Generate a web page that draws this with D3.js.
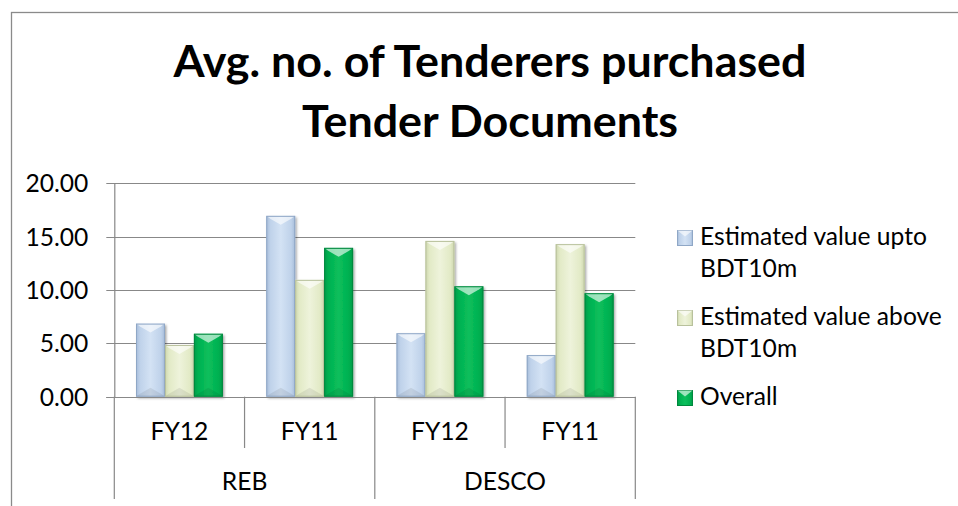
<!DOCTYPE html>
<html><head><meta charset="utf-8">
<script src="https://cdn.jsdelivr.net/npm/d3@7"></script>
<style>html,body{margin:0;padding:0;background:#fff;overflow:hidden;} svg{display:block;}</style>
</head><body>
<svg id="chart" width="958" height="506"></svg>
<script>
// ---- data ----
const titleLines = ["Avg. no. of Tenderers purchased", "Tender Documents"];
const categories = ["REB FY12", "REB FY11", "DESCO FY12", "DESCO FY11"];
const periodLabels = ["FY12", "FY11", "FY12", "FY11"];
const companyLabels = ["REB", "DESCO"];
const seriesNames = ["Estimated value upto BDT10m", "Estimated value above BDT10m", "Overall"];
const uptoValues = [6.85, 16.95, 5.95, 3.9];
const aboveValues = [4.85, 10.95, 14.6, 14.3];
const overallValues = [5.9, 13.95, 10.35, 9.7];
const yTickValues = [0, 5, 10, 15, 20];
const yTickLabels = ["0.00", "5.00", "10.00", "15.00", "20.00"];

// ---- styles ----
const seriesColors = ["#bfd2ea", "#e2eac6", "#00b050"];
const seriesEdge = ["#8fa7c6", "#b8c19c", "#00883d"];
const seriesDark = ["#a6bcd9", "#cdd6ae", "#00994a"];
const seriesLight = ["#d3e2f4", "#eef3db", "#0bbf5c"];
const gridColor = "#888888";
const fontFamily = "Lato, 'Open Sans', sans-serif";

const svg = d3.select("#chart");
const defs = svg.append("defs");

// measure font scaling so the substitute font matches Calibri widths
function measure(text, size, weight) {
  const t = svg.append("text").attr("font-family", fontFamily).attr("font-size", size)
    .attr("font-weight", weight || "normal").text(text);
  const w = t.node().getComputedTextLength();
  t.remove();
  return w;
}
const fs = 26 * 227 / measure("Estimated value upto", 26);
const tfs = 48 * 633 / measure(titleLines[0], 48, "bold");

// chart area border (extends past right edge)
svg.append("rect").attr("x", 11.5).attr("y", 12.5).attr("width", 980).attr("height", 520)
  .attr("fill", "#fff").attr("stroke", "#8a8a8a").attr("stroke-width", 1.3);

// title
const title = svg.append("text").attr("text-anchor", "middle").attr("font-family", fontFamily)
  .attr("font-weight", "bold").attr("font-size", tfs).attr("fill", "#000");
title.selectAll("tspan").data(titleLines).join("tspan")
  .attr("x", 490).attr("y", (d, i) => i === 0 ? 77 : 136.7).text(d => d);

// scales
const plot = { left: 114.3, right: 635.3, top: 183.3, bottom: 396.7 };
const y = d3.scaleLinear().domain([0, 20]).range([plot.bottom, plot.top]);
const x0 = d3.scaleBand().domain(categories).range([plot.left, plot.right]).paddingInner(0).paddingOuter(0);
const x1 = d3.scaleBand().domain(d3.range(seriesNames.length)).range([0, x0.bandwidth()]).paddingInner(0).paddingOuter(0.75);

// gridlines
svg.append("g").selectAll("line").data(yTickValues).join("line")
  .attr("x1", plot.left - 8).attr("x2", plot.right)
  .attr("y1", d => Math.round(y(d)) + 0.5).attr("y2", d => Math.round(y(d)) + 0.5)
  .attr("stroke", gridColor).attr("stroke-width", 1.2);

// y axis via d3
const yAxis = svg.append("g").attr("transform", `translate(${plot.left},0)`)
  .call(d3.axisLeft(y).tickValues(yTickValues).tickFormat((d, i) => yTickLabels[i]).tickSize(0).tickPadding(26));
yAxis.select(".domain").attr("stroke", gridColor).attr("stroke-width", 1.2);
yAxis.selectAll("text").attr("font-family", fontFamily).attr("font-size", fs).attr("fill", "#000").attr("dy", "0.34em");

// bar gradients
seriesNames.forEach((s, i) => {
  const g = defs.append("linearGradient").attr("id", "grad" + i).attr("x1", "0").attr("x2", "1").attr("y1", "0").attr("y2", "0");
  g.append("stop").attr("offset", "0").attr("stop-color", seriesDark[i]);
  g.append("stop").attr("offset", "0.14").attr("stop-color", seriesColors[i]);
  g.append("stop").attr("offset", "0.5").attr("stop-color", seriesLight[i]);
  g.append("stop").attr("offset", "0.86").attr("stop-color", seriesColors[i]);
  g.append("stop").attr("offset", "1").attr("stop-color", seriesDark[i]);
});
const shadow = defs.append("filter").attr("id", "shadow").attr("x", "-20%").attr("y", "-20%").attr("width", "150%").attr("height", "150%");
shadow.append("feDropShadow").attr("dx", 1.5).attr("dy", 1.5).attr("stdDeviation", 1.2).attr("flood-color", "#000").attr("flood-opacity", 0.35);

const seriesValues = [uptoValues, aboveValues, overallValues];
const barData = [];
categories.forEach((c, ci) => {
  seriesValues.forEach((vals, si) => barData.push({ c, si, v: vals[ci] }));
});

const bars = svg.append("g").selectAll("g").data(barData).join("g");
bars.each(function (d) {
  const g = d3.select(this);
  const bx = x0(d.c) + x1(d.si), bw = x1.bandwidth();
  const by = y(d.v), bh = y(0) - y(d.v);
  const t = Math.min(9, bh / 2);
  g.append("rect").attr("x", bx).attr("y", by).attr("width", bw).attr("height", bh)
    .attr("fill", `url(#grad${d.si})`).attr("filter", "url(#shadow)");
  // top bevel (light)
  g.append("path").attr("d", `M${bx},${by}L${bx + bw},${by}L${bx + bw - 4},${by + 3}L${bx + bw / 2},${by + t}L${bx + 4},${by + 3}Z`)
    .attr("fill", "#fff").attr("fill-opacity", 0.6);
  // bottom bevel (dark)
  const yb = by + bh;
  g.append("path").attr("d", `M${bx},${yb}L${bx + bw},${yb}L${bx + bw - 4},${yb - 3}L${bx + bw / 2},${yb - t}L${bx + 4},${yb - 3}Z`)
    .attr("fill", "#000").attr("fill-opacity", 0.08);
  g.append("rect").attr("x", bx + 0.5).attr("y", by + 0.5).attr("width", bw - 1).attr("height", bh - 1)
    .attr("fill", "none").attr("stroke", seriesEdge[d.si]).attr("stroke-width", 1);
});

// category axis separators
const sepInner = [x0(categories[1]), x0(categories[3])];
const sepOuter = [plot.left, x0(categories[2]), plot.right];
svg.append("g").selectAll("line").data(sepInner).join("line")
  .attr("x1", d => d).attr("x2", d => d).attr("y1", plot.bottom).attr("y2", 448)
  .attr("stroke", gridColor).attr("stroke-width", 1.2);
svg.append("g").selectAll("line").data(sepOuter).join("line")
  .attr("x1", d => d).attr("x2", d => d).attr("y1", plot.bottom).attr("y2", 499)
  .attr("stroke", gridColor).attr("stroke-width", 1.2);
// x axis line
svg.append("line").attr("x1", plot.left - 8).attr("x2", plot.right)
  .attr("y1", Math.round(y(0)) + 0.5).attr("y2", Math.round(y(0)) + 0.5)
  .attr("stroke", gridColor).attr("stroke-width", 1.2);

// category labels
svg.append("g").selectAll("text").data(categories).join("text")
  .attr("x", d => x0(d) + x0.bandwidth() / 2).attr("y", 440)
  .attr("text-anchor", "middle").attr("font-family", fontFamily).attr("font-size", fs).attr("fill", "#000")
  .text((d, i) => periodLabels[i]);
svg.append("g").selectAll("text").data(companyLabels).join("text")
  .attr("x", (d, i) => x0(categories[i * 2]) + x0.bandwidth())
  .attr("y", 490).attr("text-anchor", "middle").attr("font-family", fontFamily).attr("font-size", fs).attr("fill", "#000")
  .text(d => d);

// legend
const legendTop = [245, 325, 405];
const legend = svg.append("g");
seriesNames.forEach((name, i) => {
  const words = name.split(" ");
  const lines = [];
  let cur = "";
  words.forEach(w => {
    const trial = cur ? cur + " " + w : w;
    if (cur && measure(trial, fs) > 250) { lines.push(cur); cur = w; } else cur = trial;
  });
  lines.push(cur);
  const base = legendTop[i];
  const mx = 677.5, my = base - 14.5, ms = 15;
  legend.append("rect").attr("x", mx).attr("y", my).attr("width", ms).attr("height", ms)
    .attr("fill", `url(#grad${i})`).attr("stroke", seriesEdge[i]).attr("stroke-width", 1);
  legend.append("path").attr("d", `M${mx},${my}L${mx + ms},${my}L${mx + ms / 2},${my + 6}Z`)
    .attr("fill", "#fff").attr("fill-opacity", 0.6);
  const t = legend.append("text").attr("font-family", fontFamily).attr("font-size", fs).attr("fill", "#000");
  t.selectAll("tspan").data(lines).join("tspan").attr("x", 700).attr("y", (d, j) => base + j * 31.7).text(d => d);
});
</script>
</body></html>
